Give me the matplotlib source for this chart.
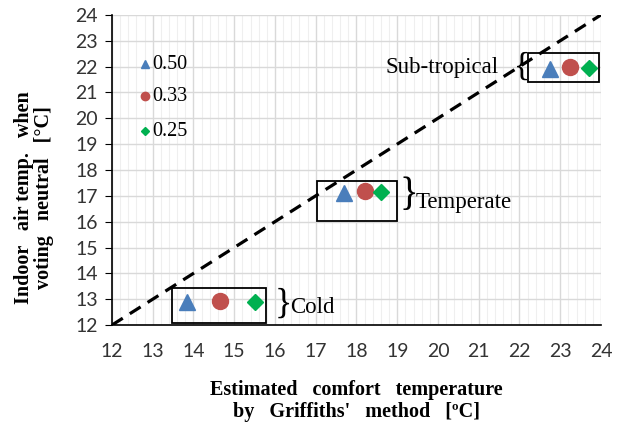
import numpy as np
import matplotlib.pyplot as plt
from matplotlib.patches import Rectangle
from matplotlib.ticker import MultipleLocator

# estimated comfort temp (x) and neutral indoor temp (y) for each climate group
groups = ['Cold', 'Temperate', 'Sub-tropical']
x_050 = [13.85, 17.7, 22.75]
x_033 = [14.65, 18.2, 23.25]
x_025 = [15.5, 18.6, 23.7]
y_050 = [12.9, 17.12, 21.92]
y_033 = [12.93, 17.2, 21.98]
y_025 = [12.88, 17.14, 21.94]
legend_labels = ['0.50', '0.33', '0.25']

serif = 'Liberation Serif'
blue, red, green = '#4A7EBB', '#C0504D', '#00B050'

fig = plt.figure(figsize=(6.17, 4.26), dpi=100)
ax = fig.add_axes([0.1815, 0.237, 0.7925, 0.728])

ax.set_xlim(12, 24)
ax.set_ylim(12, 24)
ax.xaxis.set_major_locator(MultipleLocator(1))
ax.xaxis.set_minor_locator(MultipleLocator(0.2))
ax.yaxis.set_major_locator(MultipleLocator(1))
ax.grid(True, which='major', color='#d9d9d9', lw=1.0)
ax.grid(True, which='minor', axis='x', color='#efefef', lw=0.8)
ax.set_axisbelow(True)
for s in ['top', 'right']:
    ax.spines[s].set_visible(False)
for s in ['left', 'bottom']:
    ax.spines[s].set_linewidth(1.2)
ax.tick_params(which='minor', length=0)
ax.tick_params(axis='y', which='major', length=5, direction='out', labelsize=14, pad=5,
               labelcolor='#333333')
ax.tick_params(axis='x', which='major', length=0, labelsize=14, pad=13, labelcolor='#333333')
for lab in ax.get_xticklabels() + ax.get_yticklabels():
    lab.set_fontfamily('Lato')

# 1:1 line
ax.plot([12, 24], [12, 24], ls=(0, (4, 2.6)), color='black', lw=2.3, zorder=2)

ax.plot(x_050, y_050, '^', color=blue, ms=11, ls='none', zorder=4)
ax.plot(x_033, y_033, 'o', color=red, ms=11.5, ls='none', zorder=4)
ax.plot(x_025, y_025, 'D', color=green, ms=8.5, ls='none', zorder=4)

# group boxes
boxes = [(13.47, 12.08, 2.31, 1.35), (17.03, 16.03, 1.97, 1.55), (22.2, 21.42, 1.75, 1.12)]
for bx, by, bw, bh in boxes:
    ax.add_patch(Rectangle((bx, by), bw, bh, fill=False, ec='black', lw=1.3, zorder=3))

ax.text(16.0, 12.8, '}', fontsize=26, family=serif, va='center', ha='left')
ax.text(16.38, 12.68, 'Cold', fontsize=16.5, family=serif, va='center', ha='left')
ax.text(19.05, 17.0, '}', fontsize=28, family=serif, va='center', ha='left')
ax.text(19.45, 16.73, 'Temperate', fontsize=16.5, family=serif, va='center', ha='left')
ax.text(22.27, 22.0, '{', fontsize=24, family=serif, va='center', ha='right')
ax.text(21.5, 21.96, 'Sub-tropical', fontsize=16.5, family=serif, va='center', ha='right')

# inline legend
leg_y = [22.1, 20.85, 19.5]
for mk, col, ms, yy, lab in zip(['^', 'o', 'D'], [blue, red, green], [6, 6, 4.5], leg_y, legend_labels):
    ax.plot([12.82], [yy], mk, color=col, ms=ms, zorder=4)
    ax.text(12.98, yy, lab, fontsize=14.5, family=serif, va='center', ha='left')

ax.set_xlabel("Estimated   comfort   temperature\nby   Griffiths'   method   [ºC]",
              family=serif, fontweight='bold', fontsize=14.5, labelpad=14, linespacing=1.15)
ax.set_ylabel("Indoor   air temp.   when\nvoting   neutral   [°C]",
              family=serif, fontweight='bold', fontsize=14.5, linespacing=1.05)
ax.yaxis.set_label_coords(-0.118, 0.41)

fig.savefig('out.png', dpi=100)
